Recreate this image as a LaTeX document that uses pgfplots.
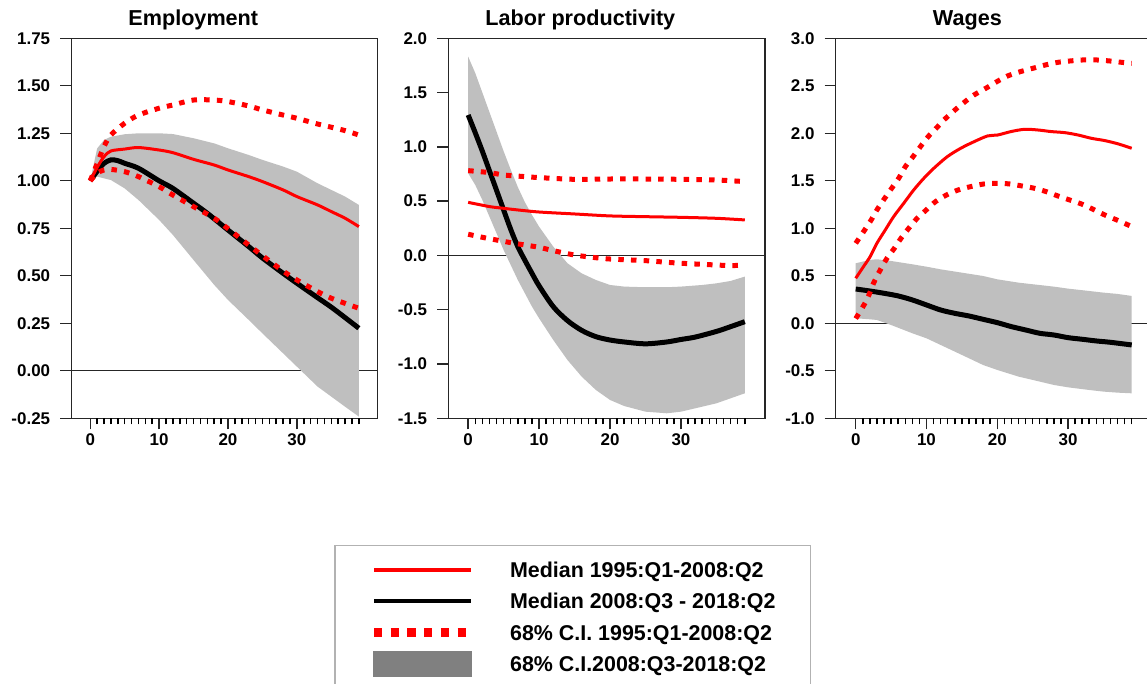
\documentclass[border=0pt]{standalone}
\usepackage{fontspec}
\setmainfont{Liberation Sans}
\usepackage{pgfplots}
\pgfplotsset{compat=1.18}

\pgfplotsset{
  irf/.style={
    scale only axis, height=380bp,
    axis line style={black!85, line width=1.2bp},
    tick style={black!85, line width=1.4bp},
    tick align=outside,
    xtick pos=left, ytick pos=left,
    major tick length=11bp,
    xtick={0,10,20,30},
    extra x ticks={1,2,3,4,5,6,7,8,9,11,12,13,14,15,16,17,18,19,21,22,23,24,25,26,27,28,29,31,32,33,34,35,36,37,38,39},
    extra x tick labels={},
    extra x tick style={major tick length=6bp, tick style={black, line width=1.5bp}},
    /pgf/number format/assume math mode=true,
    tick label style={font=\fontsize{17}{17}\selectfont\bfseries},
    yticklabel style={inner sep=0pt, xshift=-10bp},
    xticklabel style={inner sep=0pt, yshift=-4.5bp},
    title style={font=\fontsize{21.7}{22}\selectfont\bfseries, anchor=base, yshift=7bp, inner sep=0pt},
  },
  zeroline/.style={black!85, line width=1.2bp, forget plot},
  band/.style={fill=black!25, draw=none, forget plot},
  redmed/.style={red, line width=3bp, smooth, tension=0.5, forget plot},
  blkmed/.style={black, line width=5bp, smooth, tension=0.5, forget plot},
  reddot/.style={red, line width=5bp, dash pattern=on 5.5bp off 7.2bp, smooth, tension=0.5, forget plot},
}

\begin{document}
\begin{tikzpicture}
\useasboundingbox (0,0) rectangle (1147bp,684bp);

% ---------------- Employment ----------------
\begin{axis}[irf, at={(71.3bp,265.7bp)}, anchor=south west, width=306.5bp,
  xmin=-2.75, xmax=41.75, ymin=-0.25, ymax=1.75,
  ytick={-0.25,0,0.25,0.5,0.75,1,1.25,1.5,1.75},
  yticklabel style={/pgf/number format/.cd, fixed, fixed zerofill, precision=2},
  title={Employment}, title style={at={(axis description cs:0.398,1)}},
  legend style={
    at={(axis description cs:0.8571,-0.3334)}, anchor=north west,
    draw=black!30, line width=1.5bp,
    inner xsep=35bp, inner ysep=12bp,
    row sep=0pt, column sep=0pt,
    /tikz/every odd column/.append style={column sep=37bp},
    font=\fontsize{21.5}{22}\selectfont\bfseries,
    cells={anchor=base west},
    nodes={inner sep=0pt, text height=20bp, text depth=11.2bp},
  },
]
\addplot[zeroline] coordinates {(-2.75,0) (41.75,0)};
\addplot[band] coordinates {
 (0,1.0) (1,1.17) (2,1.215) (3,1.232) (5,1.245) (7,1.25) (10,1.25) (12,1.246) (15,1.224) (18,1.197) (20,1.171) (23,1.136) (25,1.11) (28,1.075) (30,1.048) (33,0.987) (35,0.952) (37,0.917) (39,0.873)
 (39,-0.241) (37,-0.189) (35,-0.136) (33,-0.083) (30,0.022) (28,0.092) (25,0.197) (23,0.268) (20,0.373) (18,0.452) (15,0.583) (12,0.715) (10,0.794) (7,0.899) (5,0.96) (3,1.004) (2,1.013) (1,1.022) (0,1.0)
} -- cycle;
\addplot[blkmed] coordinates {
 (0,1.0) (1,1.05) (2,1.092) (3,1.11) (4,1.106) (5,1.092) (7,1.066) (10,1.0) (12,0.96) (15,0.882) (17,0.829) (20,0.741) (23,0.654) (25,0.594) (28,0.513) (30,0.461) (33,0.385) (35,0.335) (37,0.28) (39,0.224)
};
\addplot[redmed] coordinates {
 (0,1.0) (1,1.07) (2,1.127) (3,1.157) (5,1.167) (7,1.175) (10,1.162) (12,1.148) (15,1.113) (18,1.083) (20,1.057) (23,1.022) (25,0.996) (28,0.952) (30,0.917) (33,0.873) (35,0.838) (37,0.803) (39,0.759)
};
\addplot[reddot] coordinates {
 (0,1.0) (1,1.09) (2,1.18) (3,1.241) (5,1.303) (7,1.346) (10,1.382) (12,1.399) (15,1.425) (18,1.425) (20,1.417) (23,1.394) (25,1.373) (28,1.346) (30,1.329) (33,1.299) (35,1.282) (37,1.264) (39,1.241)
};
\addplot[reddot] coordinates {
 (0,1.0) (1,1.04) (2,1.057) (3,1.06) (5,1.048) (7,1.022) (10,0.969) (12,0.925) (15,0.864) (18,0.803) (20,0.748) (23,0.662) (25,0.606) (28,0.525) (30,0.478) (33,0.417) (35,0.382) (37,0.355) (39,0.329)
};
\addlegendimage{legend image code/.code={\draw[red, line width=4bp] (0bp,7.8bp) -- (97bp,7.8bp);}}
\addlegendentry{Median 1995:Q1-2008:Q2}
\addlegendimage{legend image code/.code={\draw[black, line width=4.2bp] (0bp,7.8bp) -- (97bp,7.8bp);}}
\addlegendentry{Median 2008:Q3 - 2018:Q2}
\addlegendimage{legend image code/.code={\draw[red, line width=8.5bp, dash pattern=on 8.3bp off 8.4bp] (0bp,7.8bp) -- (91.7bp,7.8bp);}}
\addlegendentry{68\% C.I. 1995:Q1-2008:Q2}
\addlegendimage{legend image code/.code={\fill[black!50] (0bp,-4.2bp) rectangle (97bp,19.8bp);}}
\addlegendentry{68\% C.I.2008:Q3-2018:Q2}
\end{axis}

% ---------------- Labor productivity ----------------
\begin{axis}[irf, at={(448.3bp,265.7bp)}, anchor=south west, width=316.7bp,
  xmin=-2.8, xmax=41.85, ymin=-1.5, ymax=2,
  ytick={-1.5,-1,-0.5,0,0.5,1,1.5,2},
  yticklabel style={/pgf/number format/.cd, fixed, fixed zerofill, precision=1},
  title={Labor productivity}, title style={at={(axis description cs:0.417,1)}},
]
\addplot[zeroline] coordinates {(-2.8,0) (41.85,0)};
\addplot[band] coordinates {
 (0,1.831) (1,1.68) (2,1.50) (3,1.32) (4,1.14) (5,0.96) (6,0.79) (7,0.63) (8,0.49) (9,0.373) (10,0.265) (12,0.081) (14,-0.072) (16,-0.165) (18,-0.226) (20,-0.272) (22,-0.287) (25,-0.293) (28,-0.293) (30,-0.287) (33,-0.272) (35,-0.257) (37,-0.235) (39,-0.195)
 (39,-1.27) (37,-1.316) (35,-1.362) (33,-1.393) (30,-1.439) (28,-1.454) (25,-1.439) (22,-1.387) (20,-1.331) (18,-1.239) (16,-1.116) (14,-0.963) (12,-0.779) (10,-0.579) (9,-0.472) (8,-0.349) (7,-0.226) (6,-0.088) (5,0.05) (4,0.204) (3,0.357) (2,0.511) (1,0.649) (0,0.757)
} -- cycle;
\addplot[blkmed] coordinates {
 (0,1.294) (1,1.13) (2,0.96) (3,0.78) (4,0.6) (5,0.419) (6,0.24) (7,0.081) (8,-0.045) (9,-0.165) (10,-0.28) (12,-0.472) (14,-0.6) (16,-0.69) (18,-0.748) (20,-0.779) (22,-0.797) (25,-0.814) (28,-0.797) (30,-0.774) (32,-0.752) (35,-0.7) (37,-0.656) (39,-0.61)
};
\addplot[redmed] coordinates {
 (0,0.489) (3,0.45) (5,0.434) (7,0.419) (10,0.40) (15,0.382) (20,0.364) (25,0.357) (30,0.351) (35,0.342) (39,0.327)
};
\addplot[reddot] coordinates {
 (0,0.781) (3,0.763) (5,0.741) (8,0.726) (10,0.717) (15,0.701) (20,0.704) (25,0.704) (30,0.701) (35,0.695) (39,0.68)
};
\addplot[reddot] coordinates {
 (0,0.195) (2,0.167) (4,0.142) (6,0.118) (8,0.096) (10,0.075) (12,0.044) (15,0.004) (18,-0.021) (20,-0.033) (23,-0.042) (25,-0.048) (28,-0.063) (30,-0.072) (33,-0.082) (35,-0.088) (37,-0.094) (39,-0.088)
};
\end{axis}

% ---------------- Wages ----------------
\begin{axis}[irf, at={(835.7bp,265.7bp)}, anchor=south west, width=315.8bp,
  xmin=-2.83, xmax=41.8, ymin=-1, ymax=3,
  ytick={-1,-0.5,0,0.5,1,1.5,2,2.5,3},
  yticklabel style={/pgf/number format/.cd, fixed, fixed zerofill, precision=1},
  title={Wages}, title style={at={(axis description cs:0.417,1)}},
]
\addplot[zeroline] coordinates {(-2.83,0) (41.8,0)};
\addplot[band] coordinates {
 (0,0.632) (2,0.667) (3,0.674) (5,0.656) (8,0.621) (10,0.596) (12,0.568) (15,0.533) (18,0.498) (20,0.463) (23,0.428) (25,0.411) (28,0.386) (30,0.365) (33,0.34) (35,0.323) (37,0.309) (39,0.288)
 (39,-0.737) (37,-0.73) (35,-0.719) (33,-0.702) (30,-0.674) (28,-0.649) (25,-0.596) (23,-0.561) (20,-0.491) (18,-0.439) (15,-0.333) (12,-0.228) (10,-0.158) (8,-0.105) (5,-0.018) (3,0.035) (2,0.042) (0,0.053)
} -- cycle;
\addplot[blkmed] coordinates {
 (0,0.361) (2,0.34) (4,0.316) (6,0.288) (8,0.246) (10,0.193) (12,0.14) (14,0.105) (16,0.077) (18,0.042) (20,0.007) (22,-0.035) (24,-0.07) (26,-0.105) (28,-0.123) (30,-0.151) (32,-0.168) (34,-0.186) (36,-0.2) (39,-0.228)
};
\addplot[redmed] coordinates {
 (0,0.474) (1.09,0.596) (2.04,0.702) (2.99,0.842) (4.17,0.982) (5.36,1.123) (6.78,1.263) (8.2,1.404) (9.62,1.526) (11.04,1.632) (12.94,1.754) (14.83,1.842) (16.73,1.912) (18.63,1.972) (20.05,1.982) (21.94,2.018) (23.84,2.042) (25.73,2.035) (27.63,2.018) (29.53,2.007) (31.42,1.982) (33.32,1.947) (35.21,1.923) (37.11,1.888) (39,1.842)
};
\addplot[reddot] coordinates {
 (0,0.842) (2.04,1.07) (2.99,1.193) (3.93,1.298) (4.98,1.411) (6.07,1.526) (7.01,1.649) (8.1,1.754) (9.15,1.86) (10.24,1.965) (11.37,2.053) (12.46,2.14) (14.03,2.246) (15.45,2.333) (16.73,2.404) (18.39,2.474) (19.95,2.544) (21.47,2.604) (23.27,2.649) (25.02,2.684) (26.78,2.719) (28.58,2.747) (30.24,2.761) (32.13,2.772) (34.03,2.772) (35.92,2.761) (37.58,2.747) (39,2.737)
};
\addplot[reddot] coordinates {
 (0,0.05) (1.56,0.246) (2.51,0.421) (3.46,0.561) (4.41,0.684) (5.45,0.789) (6.4,0.895) (7.49,1.0) (8.67,1.105) (9.86,1.186) (11.28,1.281) (12.84,1.351) (14.5,1.404) (16.26,1.439) (18.15,1.467) (19.95,1.474) (21.71,1.467) (23.46,1.446) (25.26,1.421) (26.92,1.386) (28.58,1.34) (30.24,1.298) (31.9,1.256) (33.55,1.2) (35.21,1.14) (37.11,1.081) (39,1.018)
};
\end{axis}
\end{tikzpicture}
\end{document}
